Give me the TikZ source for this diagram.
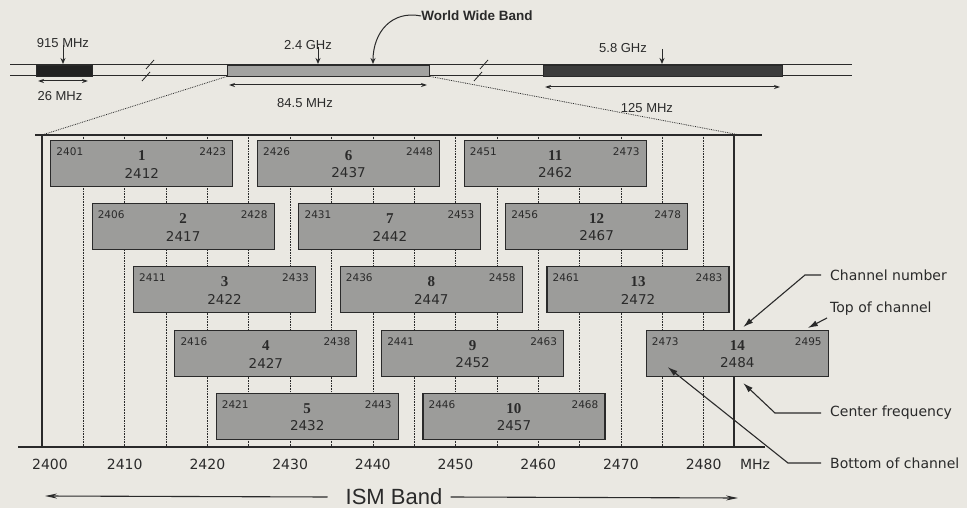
\documentclass[tikz,border=0pt]{standalone}
\usepackage{fontspec}
\setmainfont{Liberation Sans}
\newfontfamily\dejavu{DejaVu Sans}
\newfontfamily\serifb{Liberation Serif}
\usetikzlibrary{arrows.meta}
\definecolor{paper}{HTML}{EAE8E2}
\definecolor{ink}{HTML}{2A2A2A}
\definecolor{boxgray}{HTML}{9C9C9A}
\definecolor{bandgray}{HTML}{A2A2A0}
\definecolor{banddark}{HTML}{3C3C3C}
\definecolor{bandblack}{HTML}{222222}
\tikzset{
  bandline/.style={draw=ink, line width=1pt},
  bandbox/.style={draw=ink, line width=0.8pt, minimum height=11pt, inner sep=0pt, anchor=west},
  chbox/.style={draw=ink, line width=1.1pt, fill=boxgray, minimum width=182pt, minimum height=46pt, anchor=north west, inner sep=0pt},
  corner/.style={font=\dejavu\fontsize{10.5}{12}\selectfont},
  chnum/.style={font=\serifb\bfseries\fontsize{15}{17}\selectfont},
  cfreq/.style={font=\dejavu\fontsize{13.5}{15}\selectfont},
  ticklbl/.style={font=\dejavu\fontsize{14}{16}\selectfont},
  sidelbl/.style={font=\dejavu\fontsize{14}{16}\selectfont, anchor=west},
  toplbl/.style={font=\fontsize{13}{15}\selectfont},
  arr/.style={draw=ink, line width=1.1pt, -{Latex[length=10pt,width=6pt]}},
  smallarr/.style={draw=ink, line width=1pt, -{Stealth[length=6pt,width=5pt]}},
  dimarr/.style={draw=ink, line width=1pt, {Stealth[length=6pt,width=4pt]}-{Stealth[length=6pt,width=4pt]}},
  gridline/.style={draw=ink, line width=0.6pt, densely dotted},
  chartline/.style={draw=ink, line width=1.1pt},
  funnel/.style={draw=ink, line width=0.8pt, densely dotted},
  breakmark/.style={draw=ink, line width=0.8pt},
}
\begin{document}
\begin{tikzpicture}[x=1pt,y=-1pt, every node/.style={inner sep=0pt, text=ink}]
\useasboundingbox (0,0) rectangle (967,508);
\fill[paper] (0,0) rectangle (967,508);

% ---------- top band ----------
\draw[bandline] (10,65) -- (852,65);
\draw[bandline] (10,76) -- (852,76);
\node[bandbox, fill=bandblack, minimum width=56pt] (b915) at (36,70.5) {};
\node[bandbox, fill=bandgray, minimum width=202pt] (b24) at (227,70.5) {};
\node[bandbox, fill=banddark, minimum width=239pt] (b58) at (543,70.5) {};
% break marks
\draw[breakmark] (146,69) -- (154,60);
\draw[breakmark] (142,81) -- (150,72);
\draw[breakmark] (480,69) -- (488,60);
\draw[breakmark] (474,81) -- (482,72);

% labels with arrows
\node[toplbl] (t915) at (63,43) {915 MHz};
\coordinate (p915) at (63,64);
\draw[smallarr] (63,45) -- (p915);
\node[toplbl] (t24) at (308,45) {2.4 GHz};
\coordinate (p24) at (318,64);
\draw[smallarr] (318,47) -- (p24);
\node[toplbl] (t58) at (623,48) {5.8 GHz};
\coordinate (p58) at (662,64);
\draw[smallarr] (662,49) -- (p58);
\node[font=\bfseries\fontsize{13.5}{15}\selectfont] (wwb) at (477,16) {World Wide Band};
\coordinate (pwwb) at (373,64);
\draw[smallarr] (wwb.west) .. controls (392,10) and (373,32) .. (pwwb);

% dimension arrows
\draw[dimarr] (38,81) -- (88,81);
\node[toplbl] (d26) at (60,96) {26 MHz};
\draw[dimarr] (229,85) -- (427,85);
\node[toplbl] (d845) at (305,103) {84.5 MHz};
\draw[dimarr] (545,87) -- (780,87);
\node[toplbl] (d125) at (647,108) {125 MHz};

% funnel
\coordinate (fl) at (42,135);
\coordinate (fr) at (740,135);
\draw[funnel] (b24.south west) -- (fl);
\draw[funnel] (b24.south east) -- (fr);

% ---------- chart ----------
\foreach \f in {2405,2410,...,2480}{
  \draw[gridline] ({42+(\f-2400)*8.27},135) -- ({42+(\f-2400)*8.27},447);
}
\draw[chartline] (35,135) -- (762,135);
\draw[chartline] (42,135) -- (42,447);
\draw[chartline] (734,135) -- (734,447);
\draw[draw=ink, line width=1.8pt] (18,447) -- (765,447);

\foreach \n/\lo/\yt in {1/2401/140, 2/2406/203, 3/2411/266, 4/2416/330, 5/2421/393,
  6/2426/140, 7/2431/203, 8/2436/266, 9/2441/330, 10/2446/393,
  11/2451/140, 12/2456/203, 13/2461/266, 14/2473/330}{
  \pgfmathsetmacro\xx{42+(\lo-2400)*8.27}
  \pgfmathtruncatemacro\hf{\lo+22}
  \pgfmathtruncatemacro\cf{\lo+11}
  \node[chbox] (ch\n) at (\xx,\yt) {};
  \node[corner, anchor=west] (ch\n-lo) at ([xshift=6pt,yshift=-12pt]ch\n.north west) {\lo};
  \node[corner, anchor=east] (ch\n-hi) at ([xshift=-7pt,yshift=-12pt]ch\n.north east) {\hf};
  \node[chnum] (ch\n-no) at ([yshift=-16pt]ch\n.north) {\n};
  \node[cfreq] (ch\n-cf) at ([yshift=-33pt]ch\n.north) {\cf};
}

% tick labels
\node[ticklbl] (tk2400) at (50,464) {2400};
\foreach \f in {2410,2420,...,2480}{
  \node[ticklbl] (tk\f) at ({42+(\f-2400)*8.27},464) {\f};
}
\node[ticklbl] (tkmhz) at (755,464) {MHz};

% ---------- side labels ----------
\node[sidelbl] (lblnum) at (830,275) {Channel number};
\node[sidelbl] (lbltop) at (830,309) {Top of channel};
\node[sidelbl] (lblcf) at (830,413) {Center frequency};
\node[sidelbl] (lblbot) at (830,463) {Bottom of channel};
\coordinate (tipnum) at ([xshift=6pt,yshift=3pt]ch14.north);
\coordinate (tiptop) at ([xshift=-21pt,yshift=2pt]ch14.north east);
\coordinate (tipcf) at ([xshift=6pt,yshift=-6pt]ch14.south);
\coordinate (tipbot) at ([xshift=22pt,yshift=10pt]ch14.south west);
\draw[arr] ([xshift=-9pt]lblnum.west) -- (805,275) -- (tipnum);
\draw[arr] ([xshift=-3pt,yshift=-2pt]lbltop.south west) -- (tiptop);
\draw[arr] ([xshift=-9pt]lblcf.west) -- (775,413) -- (tipcf);
\draw[arr] ([xshift=-9pt]lblbot.west) -- (788,463) -- (tipbot);

% ---------- ISM band ----------
\node[font=\fontsize{22}{24}\selectfont] (ism) at (394,497) {ISM Band};
\coordinate (ismL) at (45,496);
\coordinate (ismR) at (738,498);
\draw[draw=ink, line width=1.1pt, -{Stealth[length=12pt,width=5pt]}] ([xshift=-18pt]ism.west) -- (ismL);
\draw[draw=ink, line width=1.1pt, -{Stealth[length=12pt,width=5pt]}] ([xshift=8pt]ism.east) -- (ismR);
\end{tikzpicture}
\end{document}
